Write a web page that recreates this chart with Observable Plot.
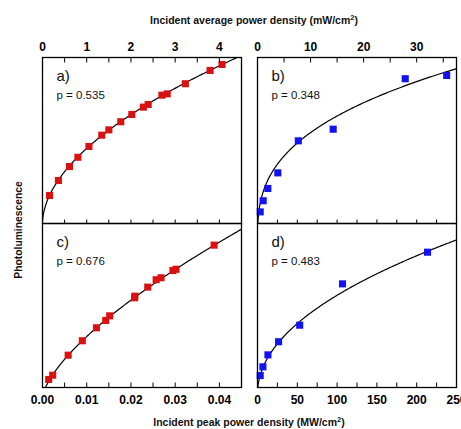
<!DOCTYPE html>
<html><head><meta charset="utf-8">
<script src="https://cdn.jsdelivr.net/npm/d3@7"></script>
<script src="https://cdn.jsdelivr.net/npm/@observablehq/plot@0.6"></script>
<style>
html,body{margin:0;padding:0;background:#fff;}
#chart{position:relative;width:461px;height:429px;overflow:hidden;font-family:"Liberation Sans",Arial,sans-serif;}
#chart svg{position:absolute;left:0;top:0;}
</style></head><body><div id="chart"></div>
<script>
// ---- Data ----
// Panel a: incident average power density (mW/cm2) vs PL (a.u.)
const avgA = [0.16,0.36,0.61,0.80,1.05,1.34,1.50,1.77,2.02,2.28,2.39,2.70,2.82,3.23,3.79,4.06];
const plA  = [16.9,25.9,34.3,39.9,46.4,53.2,56.4,61.3,65.7,70.1,71.7,77.3,78.1,84.2,92.2,95.8];
// Panel b: incident average power density (mW/cm2) vs PL (a.u.)
const avgB = [0.51,1.07,1.95,3.83,7.69,14.26,27.84,35.65];
const plB  = [7.0,13.7,21.1,30.5,49.8,56.8,87.2,89.2];
// Panel c: incident peak power density (MW/cm2) vs PL (a.u.)
const peakC = [0.0014,0.0023,0.0058,0.0090,0.0122,0.0143,0.0152,0.0208,0.0209,0.0238,0.0257,0.0268,0.0295,0.0302,0.0388];
const plC   = [4.9,7.5,19.7,28.5,36.4,40.9,43.7,54.7,55.7,61.2,65.7,66.9,71.3,72.1,86.8];
// Panel d: incident peak power density (MW/cm2) vs PL (a.u.)
const peakD = [3.4,6.8,13.1,26.5,53.0,106.8,213.6];
const plD   = [7.3,12.6,19.9,27.9,38.0,63.2,82.5];

// Power-law fits PL = c0 + c1 * x^p  (p as printed on each panel)
const panelNames = ["a)","b)","c)","d)"];
const pExponent  = [0.535, 0.348, 0.676, 0.483];
const fitC0      = [0, -11.2, -6.0, -4.36];
const fitC1      = [45.26, 29.6, 834, 6.553];

// Axis domains and ticks
const xDomains = [[0,4.5],[0,37.5],[0,0.045],[0,250]];
const ticksA = [0,0.5,1,1.5,2,2.5,3,3.5,4,4.5];
const labelsA = [0,1,2,3,4];
const ticksB = [0,5,10,15,20,25,30,35];
const labelsB = [0,10,20,30];
const ticksC = [0,0.005,0.01,0.015,0.02,0.025,0.03,0.035,0.04,0.045];
const labelsC = [0,0.01,0.02,0.03,0.04];
const ticksD = [0,25,50,75,100,125,150,175,200,225,250];
const labelsD = [0,50,100,150,200,250];

const topTitle = "Incident average power density (mW/cm";
const bottomTitle = "Incident peak power density (MW/cm";
const yTitle = "Photoluminescence";

const RED = "#d81212", BLUE = "#1212f2";
const W = 461, H = 429;
const box = [
  {l:42, r:241, t:57, b:223},
  {l:257, r:456, t:57, b:223},
  {l:42, r:241, t:223, b:387},
  {l:257, r:456, t:223, b:387}
];
const xsAll = [avgA, avgB, peakC, peakD];
const ysAll = [plA, plB, plC, plD];
const colors = [RED, BLUE, RED, BLUE];
const tickSets = [ticksA, ticksB, ticksC, ticksD];
const labelSets = [labelsA, labelsB, labelsC, labelsD];
const fmts = [d3.format("d"), d3.format("d"), d3.format(".2f"), d3.format("d")];

const chart = document.getElementById("chart");
const font = "'Liberation Sans', Arial, sans-serif";

for (let i = 0; i < 4; i++) {
  const b = box[i];
  const pts = xsAll[i].map((x, j) => ({x, y: ysAll[i][j]}));
  const xmax = xDomains[i][1];
  // model curve evaluation samples (denser near zero)
  const curve = d3.range(0, 1.00001, 0.004).map(t => {
    const x = xmax * t * t;
    return {x, y: fitC0[i] + fitC1[i] * Math.pow(x, pExponent[i])};
  });
  const isTop = i < 2;
  const marks = [
    Plot.line(curve, {x: "x", y: "y", stroke: "black", strokeWidth: 1.2, clip: true}),
    Plot.dot(pts, {x: "x", y: "y", symbol: "square", r: 4, fill: colors[i], stroke: "none"}),
    Plot.frame({stroke: "black", strokeWidth: 1.3}),
    Plot.text([panelNames[i]], {frameAnchor: "top-left", dx: 14, dy: 19, textAnchor: "start", lineAnchor: "middle", fontSize: 15, fill: "#111"}),
    Plot.text(["p = " + pExponent[i].toFixed(3)], {frameAnchor: "top-left", dx: 14, dy: 38, textAnchor: "start", lineAnchor: "middle", fontSize: 11.5, fill: "#111"})
  ];
  if (isTop) {
    marks.push(
      Plot.axisX({anchor: "top", ticks: tickSets[i], tickSize: -4.5, tickFormat: () => "", strokeWidth: 1}),
      Plot.axisX({anchor: "top", ticks: labelSets[i], tickSize: 0, tickPadding: 7, tickFormat: fmts[i], fontSize: 12, fontWeight: "bold", fill: "black"})
    );
  } else {
    marks.push(
      Plot.axisX({anchor: "bottom", ticks: tickSets[i], tickSize: -4.5, tickFormat: () => "", strokeWidth: 1}),
      Plot.axisX({anchor: "top", ticks: tickSets[i], tickSize: 4.5, tickFormat: () => "", strokeWidth: 1}),
      Plot.axisX({anchor: "bottom", ticks: labelSets[i], tickSize: 0, tickPadding: 8, tickFormat: fmts[i], fontSize: 12, fontWeight: "bold", fill: "black"})
    );
  }
  const svg = Plot.plot({
    width: W, height: H,
    marginLeft: b.l, marginRight: W - b.r, marginTop: b.t, marginBottom: H - b.b,
    x: {domain: xDomains[i], label: null},
    y: {domain: [0, 100], axis: null},
    style: {background: "transparent", fontFamily: font, color: "black", overflow: "visible"},
    marks
  });
  chart.appendChild(svg);
}

// Titles overlay
const ns = "http://www.w3.org/2000/svg";
const ov = document.createElementNS(ns, "svg");
ov.setAttribute("width", W); ov.setAttribute("height", H);
ov.style.fontFamily = font;
function title(str, x, y, rot, size) {
  const t = document.createElementNS(ns, "text");
  t.setAttribute("x", x); t.setAttribute("y", y);
  t.setAttribute("text-anchor", "middle");
  t.setAttribute("font-size", size);
  t.setAttribute("font-weight", "bold");
  t.setAttribute("fill", "#111");
  if (rot) t.setAttribute("transform", `rotate(-90 ${x} ${y})`);
  t.textContent = str;
  return t;
}
function titleSup(str, x, y) {
  const t = document.createElementNS(ns, "text");
  t.setAttribute("x", x); t.setAttribute("y", y);
  t.setAttribute("text-anchor", "middle");
  t.setAttribute("font-size", "10.5");
  t.setAttribute("font-weight", "bold");
  t.setAttribute("fill", "#111");
  t.innerHTML = str + '<tspan dy="-4.5" font-size="7.5">2</tspan><tspan dy="4.5">)</tspan>';
  return t;
}
ov.appendChild(titleSup(topTitle, 254, 24));
ov.appendChild(titleSup(bottomTitle, 249, 426));
ov.appendChild(title(yTitle, 22, 230, true, "10.3"));
chart.appendChild(ov);
</script></body></html>
